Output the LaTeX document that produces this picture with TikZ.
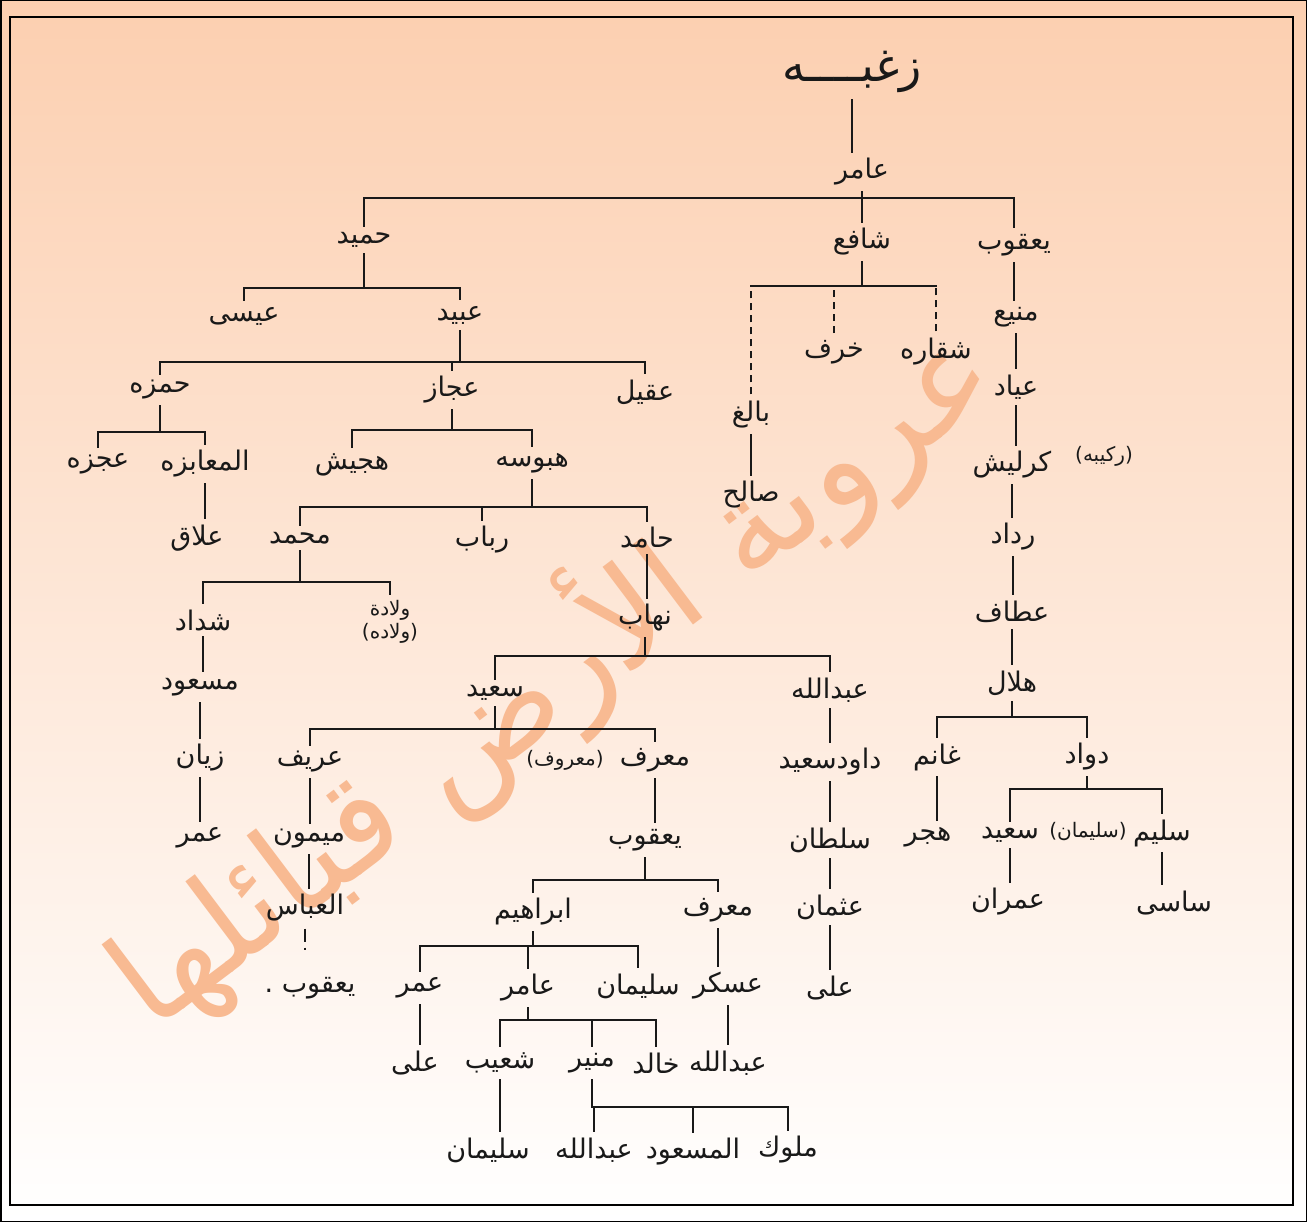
\documentclass[tikz,border=0pt]{standalone}
\usepackage{fontspec}
\usepackage{tikz}
\newfontfamily\arabicfont[Script=Arabic]{DejaVu Sans}
\newfontfamily\parenfont{DejaVu Sans}
\TeXXeTstate=1
\newcommand{\ar}[1]{\beginR #1\endR}
\newcommand{\pr}[1]{{\parenfont(}\ar{#1}{\parenfont)}}
\definecolor{peach}{RGB}{252,207,176}
\definecolor{peachmid}{RGB}{253,227,208}
\definecolor{ink}{RGB}{25,25,25}
\definecolor{wmark}{RGB}{248,186,146}

\begin{document}
\begin{tikzpicture}[x=1pt,y=-1pt,
    person/.style={font=\arabicfont\fontsize{27}{31}\selectfont, text=ink, inner sep=2pt, outer sep=5pt},
    note/.style={person, font=\arabicfont\fontsize{20}{23}\selectfont},
    link/.style={draw=ink, line width=2.3pt, line cap=rect},
    guess/.style={draw=ink, line width=2.3pt, dash pattern=on 7pt off 5pt},
    broken/.style={draw=ink, line width=2.3pt, dash pattern=on 13pt off 6pt on 2.5pt off 30pt}]
    \useasboundingbox (0,0) rectangle (1307,1222);
    \shade[top color=peach, middle color=peachmid, bottom color=white] (0,0) rectangle (1307,1222);
    \draw[line width=1.5pt] (0.75,0.75) rectangle (1306.25,1221.25);
    \draw[line width=1.8pt] (10,17) rectangle (1293,1205);
    \node[rotate=37, text=wmark, font=\arabicfont\fontsize{132}{138}\selectfont] (mark) at (550,674) {\ar{عروبة الأرض قبائلها}};

    \node[person, font=\arabicfont\fontsize{46}{50}\selectfont] (zughba) at (852,72) {\ar{زغبــــه}};
    \node[person] (amer) at (862,172) {\ar{عامر}};
    \node[person] (hamid) at (364,240) {\ar{حميد}};
    \node[person] (shafi) at (862,242) {\ar{شافع}};
    \node[person] (yaqub) at (1014,245) {\ar{يعقوب}};
    \node[person] (isa) at (244,316) {\ar{عيسى}};
    \node[person] (obeid) at (460,315) {\ar{عبيد}};
    \node[person] (hamza) at (160,390) {\ar{حمزه}};
    \node[person] (ajjaz) at (452,390) {\ar{عجاز}};
    \node[person] (aqil) at (645,392) {\ar{عقيل}};
    \node[person] (ajza) at (98,464) {\ar{عجزه}};
    \node[person] (maabza) at (205,464) {\ar{المعابزه}};
    \node[person] (allaq) at (197,538) {\ar{علاق}};
    \node[person] (hajish) at (352,465) {\ar{هجيش}};
    \node[person] (habusa) at (532,463) {\ar{هبوسه}};
    \node[person] (mohamed) at (300,538) {\ar{محمد}};
    \node[person] (rabab) at (482,540) {\ar{رباب}};
    \node[person] (hamed) at (647,538) {\ar{حامد}};
    \node[person] (shaddad) at (203,620) {\ar{شداد}};
    \node[note, align=center] (wallada) at (390,622) {\ar{ولادة}\\\pr{ولاده}};
    \node[person] (masoud) at (200,687) {\ar{مسعود}};
    \node[person] (zayyan) at (200,758) {\ar{زيان}};
    \node[person] (omar) at (200,838) {\ar{عمر}};
    \node[person] (nahab) at (645,618) {\ar{نهاب}};
    \node[person] (said) at (495,693) {\ar{سعيد}};
    \node[person] (abdallah) at (830,690) {\ar{عبدالله}};
    \node[person] (arif) at (310,762) {\ar{عريف}};
    \node[person] (maaraf) at (655,760) {\ar{معرف}};
    \node[note] (maarafalt) at (565,760) {\pr{معروف}};
    \node[person] (maymun) at (309,839) {\ar{ميمون}};
    \node[person] (abbas) at (305,908) {\ar{العباس}};
    \node[person] (yaqubb) at (310,988) {\ar{يعقوب .}};
    \node[person] (yaqubc) at (645,840) {\ar{يعقوب}};
    \node[person] (ibrahim) at (533,912) {\ar{ابراهيم}};
    \node[person] (maarafb) at (718,910) {\ar{معرف}};
    \node[person] (omarb) at (420,988) {\ar{عمر}};
    \node[person] (amerb) at (528,988) {\ar{عامر}};
    \node[person] (sulayman) at (638,986) {\ar{سليمان}};
    \node[person] (askar) at (728,986) {\ar{عسكر}};
    \node[person] (alib) at (415,1063) {\ar{على}};
    \node[person] (shuayb) at (500,1063) {\ar{شعيب}};
    \node[person] (munir) at (592,1063) {\ar{منير}};
    \node[person] (khaled) at (656,1063) {\ar{خالد}};
    \node[person] (abdallahb) at (728,1063) {\ar{عبدالله}};
    \node[person] (sulaymanb) at (488,1150) {\ar{سليمان}};
    \node[person] (abdallahc) at (594,1150) {\ar{عبدالله}};
    \node[person] (saud) at (693,1152) {\ar{المسعود}};
    \node[person] (muluk) at (788,1150) {\ar{ملوك}};
    \node[person] (dawudsaid) at (830,762) {\ar{داودسعيد}};
    \node[person] (sultan) at (830,840) {\ar{سلطان}};
    \node[person] (othman) at (830,907) {\ar{عثمان}};
    \node[person] (ali) at (830,988) {\ar{على}};
    \node[person] (baligh) at (751,415) {\ar{بالغ}};
    \node[person] (saleh) at (751,495) {\ar{صالح}};
    \node[person] (kharaf) at (834,352) {\ar{خرف}};
    \node[person] (shaqara) at (936,352) {\ar{شقاره}};
    \node[person] (manee) at (1016,317) {\ar{منيع}};
    \node[person] (ayyad) at (1016,387) {\ar{عياد}};
    \node[person] (karlish) at (1012,465) {\ar{كرليش}};
    \node[note] (karlishalt) at (1104,456) {\pr{ركيبه}};
    \node[person] (raddad) at (1013,537) {\ar{رداد}};
    \node[person] (attaf) at (1012,612) {\ar{عطاف}};
    \node[person] (hilal) at (1012,683) {\ar{هلال}};
    \node[person] (ghanim) at (937,757) {\ar{غانم}};
    \node[person] (dawwad) at (1087,757) {\ar{دواد}};
    \node[person] (hajar) at (928,837) {\ar{هجر}};
    \node[person] (saidb) at (1010,835) {\ar{سعيد}};
    \node[person] (salim) at (1162,833) {\ar{سليم}};
    \node[note] (salimalt) at (1088,832) {\pr{سليمان}};
    \node[person] (omran) at (1008,902) {\ar{عمران}};
    \node[person] (sasi) at (1174,903) {\ar{ساسى}};

    \foreach \k/\l in {zughba/amer, baligh/saleh, yaqub/manee, manee/ayyad, ayyad/karlish,
        karlish/raddad, raddad/attaf, attaf/hilal, ghanim/hajar, saidb/omran, salim/sasi,
        maabza/allaq, shaddad/masoud, masoud/zayyan, zayyan/omar, hamed/nahab, arif/maymun,
        maymun/abbas, maaraf/yaqubc, abdallah/dawudsaid, dawudsaid/sultan, sultan/othman,
        othman/ali, maarafb/askar, omarb/alib, askar/abdallahb, shuayb/sulaymanb}{
        \draw[link] (\k)--(\k |- \l.north);
    }
    \draw[broken] (abbas)--(abbas |- yaqubb.north);
    \foreach \p/\b/\l/\r/\kids in {amer/198/hamid/yaqub/{hamid,shafi,yaqub},
        hamid/288/isa/obeid/{isa,obeid}, obeid/362/hamza/aqil/{hamza,ajjaz,aqil},
        hamza/432/ajza/maabza/{ajza,maabza}, ajjaz/430/hajish/habusa/{hajish,habusa},
        habusa/507/mohamed/hamed/{mohamed,rabab,hamed}, mohamed/582/shaddad/wallada/{shaddad,wallada},
        nahab/656/said/abdallah/{said,abdallah}, said/729/arif/maaraf/{arif,maaraf},
        yaqubc/880/ibrahim/maarafb/{ibrahim,maarafb}, ibrahim/946/omarb/sulayman/{omarb,amerb,sulayman},
        amerb/1020/shuayb/khaled/{shuayb,munir,khaled}, munir/1107/abdallahc/muluk/{abdallahc,saud,muluk},
        hilal/717/ghanim/dawwad/{ghanim,dawwad}, dawwad/789/saidb/salim/{saidb,salim}}{
        \draw[link] (\p)--(\p |- 0,\b) (\l |- 0,\b)--(\r |- 0,\b);
        \foreach \k in \kids {\draw[link] (\k)--(\k |- 0,\b);}
    }
    \draw[link] (shafi)--(shafi |- 0,286) (baligh |- 0,286)--(shaqara |- 0,286);
    \foreach \k in {baligh,kharaf,shaqara}{\draw[guess] (\k)--(\k |- 0,286);}
\end{tikzpicture}
\end{document}
